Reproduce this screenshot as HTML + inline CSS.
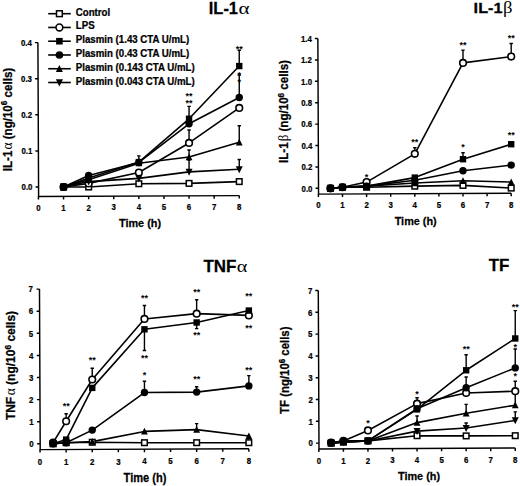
<!DOCTYPE html><html><head><meta charset="utf-8"><style>html,body{margin:0;padding:0;background:#fff;}svg{display:block}.t{font-family:"Liberation Sans",sans-serif;font-weight:bold;fill:#000;stroke:#000;stroke-width:0.25px}.s{stroke:none}.g{font-family:"Liberation Serif",serif;font-weight:normal;stroke:none}</style></head><body>
<svg width="520" height="486" viewBox="0 0 520 486"><rect width="520" height="486" fill="#fff"/>
<path d="M37.91 42.60 L38.60 196.50 L239.25 195.60" fill="none" stroke="#000" stroke-width="1.45" stroke-linejoin="miter"/>
<path d="M35.56 187.00 H38.56 M35.39 150.90 H38.39 M35.23 114.80 H38.23 M35.07 78.70 H38.07 M34.91 42.60 H37.91 M38.45 196.50 V199.50 M63.55 196.39 V199.39 M88.65 196.27 V199.27 M113.75 196.16 V199.16 M138.85 196.05 V199.05 M163.95 195.94 V198.94 M189.05 195.82 V198.82 M214.15 195.71 V198.71 M239.25 195.60 V198.60 " fill="none" stroke="#000" stroke-width="1.45"/>
<text transform="translate(32.46,190.20) scale(0.88,1.0)" text-anchor="end" class="t" font-size="8.9" >0.0</text>
<text transform="translate(32.29,154.10) scale(0.88,1.0)" text-anchor="end" class="t" font-size="8.9" >0.1</text>
<text transform="translate(32.13,118.00) scale(0.88,1.0)" text-anchor="end" class="t" font-size="8.9" >0.2</text>
<text transform="translate(31.97,81.90) scale(0.88,1.0)" text-anchor="end" class="t" font-size="8.9" >0.3</text>
<text transform="translate(31.81,45.80) scale(0.88,1.0)" text-anchor="end" class="t" font-size="8.9" >0.4</text>
<text transform="translate(38.45,210.80) scale(0.88,1.0)" text-anchor="middle" class="t" font-size="8.9" >0</text>
<text transform="translate(63.55,210.69) scale(0.88,1.0)" text-anchor="middle" class="t" font-size="8.9" >1</text>
<text transform="translate(88.65,210.57) scale(0.88,1.0)" text-anchor="middle" class="t" font-size="8.9" >2</text>
<text transform="translate(113.75,210.46) scale(0.88,1.0)" text-anchor="middle" class="t" font-size="8.9" >3</text>
<text transform="translate(138.85,210.35) scale(0.88,1.0)" text-anchor="middle" class="t" font-size="8.9" >4</text>
<text transform="translate(163.95,210.24) scale(0.88,1.0)" text-anchor="middle" class="t" font-size="8.9" >5</text>
<text transform="translate(189.05,210.12) scale(0.88,1.0)" text-anchor="middle" class="t" font-size="8.9" >6</text>
<text transform="translate(214.15,210.01) scale(0.88,1.0)" text-anchor="middle" class="t" font-size="8.9" >7</text>
<text transform="translate(239.25,209.90) scale(0.88,1.0)" text-anchor="middle" class="t" font-size="8.9" >8</text>
<path d="M138.85 162.09 V155.90 M137.15 155.90 H140.55" stroke="#000" stroke-width="1.4" fill="none"/>
<path d="M189.05 118.77 V106.40 M187.35 106.40 H190.75" stroke="#000" stroke-width="1.4" fill="none"/>
<path d="M239.25 66.06 V50.30 M237.55 50.30 H240.95" stroke="#000" stroke-width="1.4" fill="none"/>
<path d="M189.05 142.96 V130.00 M187.35 130.00 H190.75" stroke="#000" stroke-width="1.4" fill="none"/>
<path d="M239.25 97.47 V75.00 M237.55 75.00 H240.95" stroke="#000" stroke-width="1.4" fill="none"/>
<path d="M189.05 157.04 V150.00 M187.35 150.00 H190.75" stroke="#000" stroke-width="1.4" fill="none"/>
<path d="M239.25 142.24 V125.70 M237.55 125.70 H240.95" stroke="#000" stroke-width="1.4" fill="none"/>
<path d="M239.25 169.31 V159.50 M237.55 159.50 H240.95" stroke="#000" stroke-width="1.4" fill="none"/>
<path d="M189.05 171.84 V160.00 M187.35 160.00 H190.75" stroke="#000" stroke-width="1.4" fill="none"/>
<polyline points="63.55,187.00 88.65,187.00 138.85,183.75 189.05,183.39 239.25,181.59" fill="none" stroke="#000" stroke-width="1.6" stroke-linejoin="round"/>
<polyline points="63.55,187.00 88.65,181.59 138.85,178.34 189.05,171.84 239.25,169.31" fill="none" stroke="#000" stroke-width="1.6" stroke-linejoin="round"/>
<polyline points="63.55,187.00 88.65,179.78 138.85,163.17 189.05,157.04 239.25,142.24" fill="none" stroke="#000" stroke-width="1.6" stroke-linejoin="round"/>
<polyline points="63.55,187.00 88.65,183.39 138.85,172.56 189.05,142.96 239.25,107.94" fill="none" stroke="#000" stroke-width="1.6" stroke-linejoin="round"/>
<polyline points="63.55,187.00 88.65,175.45 138.85,162.45 189.05,123.83 239.25,97.47" fill="none" stroke="#000" stroke-width="1.6" stroke-linejoin="round"/>
<polyline points="63.55,187.00 88.65,177.97 138.85,162.09 189.05,118.77 239.25,66.06" fill="none" stroke="#000" stroke-width="1.6" stroke-linejoin="round"/>
<rect x="60.75" y="184.20" width="5.60" height="5.60" fill="#fff" stroke="#000" stroke-width="1.5"/>
<rect x="85.85" y="184.20" width="5.60" height="5.60" fill="#fff" stroke="#000" stroke-width="1.5"/>
<rect x="136.05" y="180.95" width="5.60" height="5.60" fill="#fff" stroke="#000" stroke-width="1.5"/>
<rect x="186.25" y="180.59" width="5.60" height="5.60" fill="#fff" stroke="#000" stroke-width="1.5"/>
<rect x="236.45" y="178.78" width="5.60" height="5.60" fill="#fff" stroke="#000" stroke-width="1.5"/>
<circle cx="63.55" cy="187.00" r="3.30" fill="#fff" stroke="#000" stroke-width="1.6"/>
<circle cx="88.65" cy="183.39" r="3.30" fill="#fff" stroke="#000" stroke-width="1.6"/>
<circle cx="138.85" cy="172.56" r="3.30" fill="#fff" stroke="#000" stroke-width="1.6"/>
<circle cx="189.05" cy="142.96" r="3.30" fill="#fff" stroke="#000" stroke-width="1.6"/>
<circle cx="239.25" cy="107.94" r="3.30" fill="#fff" stroke="#000" stroke-width="1.6"/>
<path d="M63.55 190.90 L67.05 183.90 L60.05 183.90Z" fill="#000"/>
<path d="M88.65 185.49 L92.15 178.49 L85.15 178.49Z" fill="#000"/>
<path d="M138.85 182.24 L142.35 175.24 L135.35 175.24Z" fill="#000"/>
<path d="M189.05 175.74 L192.55 168.74 L185.55 168.74Z" fill="#000"/>
<path d="M239.25 173.21 L242.75 166.21 L235.75 166.21Z" fill="#000"/>
<path d="M63.55 183.40 L66.95 190.20 L60.15 190.20Z" fill="#000"/>
<path d="M88.65 176.18 L92.05 182.98 L85.25 182.98Z" fill="#000"/>
<path d="M138.85 159.57 L142.25 166.37 L135.45 166.37Z" fill="#000"/>
<path d="M189.05 153.44 L192.45 160.24 L185.65 160.24Z" fill="#000"/>
<path d="M239.25 138.64 L242.65 145.44 L235.85 145.44Z" fill="#000"/>
<circle cx="63.55" cy="187.00" r="3.70" fill="#000"/>
<circle cx="88.65" cy="175.45" r="3.70" fill="#000"/>
<circle cx="138.85" cy="162.45" r="3.70" fill="#000"/>
<circle cx="189.05" cy="123.83" r="3.70" fill="#000"/>
<circle cx="239.25" cy="97.47" r="3.70" fill="#000"/>
<rect x="60.35" y="183.80" width="6.40" height="6.40" fill="#000"/>
<rect x="85.45" y="174.78" width="6.40" height="6.40" fill="#000"/>
<rect x="135.65" y="158.89" width="6.40" height="6.40" fill="#000"/>
<rect x="185.85" y="115.57" width="6.40" height="6.40" fill="#000"/>
<rect x="236.05" y="62.86" width="6.40" height="6.40" fill="#000"/>
<text x="189.05" y="98.60" text-anchor="middle" class="t s" font-size="9">**</text>
<text x="189.05" y="106.20" text-anchor="middle" class="t s" font-size="9">**</text>
<text x="239.25" y="51.90" text-anchor="middle" class="t s" font-size="9">**</text>
<text x="239.25" y="77.60" text-anchor="middle" class="t s" font-size="9">*</text>
<text x="239.25" y="84.70" text-anchor="middle" class="t s" font-size="9">*</text>
<path d="M48.2 13.70 H70.8" stroke="#000" stroke-width="1.6"/>
<rect x="56.50" y="10.80" width="5.80" height="5.80" fill="#fff" stroke="#000" stroke-width="1.5"/>
<text transform="translate(75.8,15.70) scale(0.955,1)" class="t" font-size="10.15">Control</text>
<path d="M48.2 27.46 H70.8" stroke="#000" stroke-width="1.6"/>
<circle cx="59.40" cy="27.46" r="3.40" fill="#fff" stroke="#000" stroke-width="1.6"/>
<text transform="translate(75.8,29.46) scale(0.955,1)" class="t" font-size="10.15">LPS</text>
<path d="M48.2 41.22 H70.8" stroke="#000" stroke-width="1.6"/>
<rect x="56.10" y="37.92" width="6.60" height="6.60" fill="#000"/>
<text transform="translate(75.8,43.22) scale(0.955,1)" class="t" font-size="10.15">Plasmin (1.43 CTA U/mL)</text>
<path d="M48.2 54.98 H70.8" stroke="#000" stroke-width="1.6"/>
<circle cx="59.40" cy="54.98" r="3.80" fill="#000"/>
<text transform="translate(75.8,56.98) scale(0.955,1)" class="t" font-size="10.15">Plasmin (0.43 CTA U/mL)</text>
<path d="M48.2 68.74 H70.8" stroke="#000" stroke-width="1.6"/>
<path d="M59.40 65.04 L62.90 72.04 L55.90 72.04Z" fill="#000"/>
<text transform="translate(75.8,70.74) scale(0.955,1)" class="t" font-size="10.15">Plasmin (0.143 CTA U/mL)</text>
<path d="M48.2 82.50 H70.8" stroke="#000" stroke-width="1.6"/>
<path d="M59.40 86.50 L63.00 79.30 L55.80 79.30Z" fill="#000"/>
<text transform="translate(75.8,84.50) scale(0.955,1)" class="t" font-size="10.15">Plasmin (0.043 CTA U/mL)</text>
<text transform="translate(208.8,14.2) scale(1.04,1)" class="t" font-size="15.8">IL-1</text>
<text transform="translate(238.4,14.2) scale(1.2,1)" class="t g" font-size="17.5">α</text>
<text transform="translate(11.9,119.5) rotate(-90) scale(1,1.07)" text-anchor="middle" class="t" font-size="11.6">IL-1<tspan class="g" font-size="13.5" dx="1">α</tspan> (ng/10<tspan font-size="8.2" dy="-4.3">6</tspan><tspan dy="4.3"> cells)</tspan></text>
<text transform="translate(140,227.1) scale(0.92,1)" text-anchor="middle" class="t" font-size="11.82">Time (h)</text>
<path d="M317.85 38.50 L318.55 194.10 L511.20 193.23" fill="none" stroke="#000" stroke-width="1.45" stroke-linejoin="miter"/>
<path d="M315.52 188.30 H318.52 M315.43 166.90 H318.43 M315.33 145.50 H318.33 M315.23 124.10 H318.23 M315.14 102.70 H318.14 M315.04 81.30 H318.04 M314.95 59.90 H317.95 M314.85 38.50 H317.85 M318.40 194.10 V197.10 M342.50 193.99 V196.99 M366.60 193.88 V196.88 M390.70 193.78 V196.78 M414.80 193.67 V196.67 M438.90 193.56 V196.56 M463.00 193.45 V196.45 M487.10 193.34 V196.34 M511.20 193.23 V196.23 " fill="none" stroke="#000" stroke-width="1.45"/>
<text transform="translate(312.47,191.50) scale(0.88,1.0)" text-anchor="end" class="t" font-size="8.9" >0.0</text>
<text transform="translate(312.38,170.10) scale(0.88,1.0)" text-anchor="end" class="t" font-size="8.9" >0.2</text>
<text transform="translate(312.28,148.70) scale(0.88,1.0)" text-anchor="end" class="t" font-size="8.9" >0.4</text>
<text transform="translate(312.19,127.30) scale(0.88,1.0)" text-anchor="end" class="t" font-size="8.9" >0.6</text>
<text transform="translate(312.09,105.90) scale(0.88,1.0)" text-anchor="end" class="t" font-size="8.9" >0.8</text>
<text transform="translate(311.99,84.50) scale(0.88,1.0)" text-anchor="end" class="t" font-size="8.9" >1.0</text>
<text transform="translate(311.90,63.10) scale(0.88,1.0)" text-anchor="end" class="t" font-size="8.9" >1.2</text>
<text transform="translate(311.80,41.70) scale(0.88,1.0)" text-anchor="end" class="t" font-size="8.9" >1.4</text>
<text transform="translate(318.40,208.40) scale(0.88,1.0)" text-anchor="middle" class="t" font-size="8.9" >0</text>
<text transform="translate(342.50,208.29) scale(0.88,1.0)" text-anchor="middle" class="t" font-size="8.9" >1</text>
<text transform="translate(366.60,208.18) scale(0.88,1.0)" text-anchor="middle" class="t" font-size="8.9" >2</text>
<text transform="translate(390.70,208.08) scale(0.88,1.0)" text-anchor="middle" class="t" font-size="8.9" >3</text>
<text transform="translate(414.80,207.97) scale(0.88,1.0)" text-anchor="middle" class="t" font-size="8.9" >4</text>
<text transform="translate(438.90,207.86) scale(0.88,1.0)" text-anchor="middle" class="t" font-size="8.9" >5</text>
<text transform="translate(463.00,207.75) scale(0.88,1.0)" text-anchor="middle" class="t" font-size="8.9" >6</text>
<text transform="translate(487.10,207.64) scale(0.88,1.0)" text-anchor="middle" class="t" font-size="8.9" >7</text>
<text transform="translate(511.20,207.53) scale(0.88,1.0)" text-anchor="middle" class="t" font-size="8.9" >8</text>
<path d="M414.80 153.85 V147.70 M413.10 147.70 H416.50" stroke="#000" stroke-width="1.4" fill="none"/>
<path d="M463.00 62.90 V50.10 M461.30 50.10 H464.70" stroke="#000" stroke-width="1.4" fill="none"/>
<path d="M511.20 56.58 V43.50 M509.50 43.50 H512.90" stroke="#000" stroke-width="1.4" fill="none"/>
<path d="M463.00 159.20 V152.80 M461.30 152.80 H464.70" stroke="#000" stroke-width="1.4" fill="none"/>
<polyline points="330.45,188.30 342.50,187.23 366.60,187.23 414.80,186.16 463.00,185.41 511.20,188.09" fill="none" stroke="#000" stroke-width="1.6" stroke-linejoin="round"/>
<polyline points="330.45,188.30 342.50,187.23 366.60,186.16 414.80,182.95 463.00,180.81 511.20,182.09" fill="none" stroke="#000" stroke-width="1.6" stroke-linejoin="round"/>
<polyline points="330.45,188.30 342.50,187.23 366.60,182.09 414.80,153.85 463.00,62.90 511.20,56.58" fill="none" stroke="#000" stroke-width="1.6" stroke-linejoin="round"/>
<polyline points="330.45,188.30 342.50,187.23 366.60,186.16 414.80,180.28 463.00,170.75 511.20,165.08" fill="none" stroke="#000" stroke-width="1.6" stroke-linejoin="round"/>
<polyline points="330.45,188.30 342.50,187.23 366.60,186.16 414.80,177.60 463.00,159.20 511.20,144.22" fill="none" stroke="#000" stroke-width="1.6" stroke-linejoin="round"/>
<rect x="327.65" y="185.50" width="5.60" height="5.60" fill="#fff" stroke="#000" stroke-width="1.5"/>
<rect x="339.70" y="184.43" width="5.60" height="5.60" fill="#fff" stroke="#000" stroke-width="1.5"/>
<rect x="363.80" y="184.43" width="5.60" height="5.60" fill="#fff" stroke="#000" stroke-width="1.5"/>
<rect x="412.00" y="183.36" width="5.60" height="5.60" fill="#fff" stroke="#000" stroke-width="1.5"/>
<rect x="460.20" y="182.61" width="5.60" height="5.60" fill="#fff" stroke="#000" stroke-width="1.5"/>
<rect x="508.40" y="185.29" width="5.60" height="5.60" fill="#fff" stroke="#000" stroke-width="1.5"/>
<circle cx="330.45" cy="188.30" r="3.30" fill="#fff" stroke="#000" stroke-width="1.6"/>
<circle cx="342.50" cy="187.23" r="3.30" fill="#fff" stroke="#000" stroke-width="1.6"/>
<circle cx="366.60" cy="182.09" r="3.30" fill="#fff" stroke="#000" stroke-width="1.6"/>
<circle cx="414.80" cy="153.85" r="3.30" fill="#fff" stroke="#000" stroke-width="1.6"/>
<circle cx="463.00" cy="62.90" r="3.30" fill="#fff" stroke="#000" stroke-width="1.6"/>
<circle cx="511.20" cy="56.58" r="3.30" fill="#fff" stroke="#000" stroke-width="1.6"/>
<path d="M330.45 184.70 L333.85 191.50 L327.05 191.50Z" fill="#000"/>
<path d="M342.50 183.63 L345.90 190.43 L339.10 190.43Z" fill="#000"/>
<path d="M366.60 182.56 L370.00 189.36 L363.20 189.36Z" fill="#000"/>
<path d="M414.80 179.35 L418.20 186.15 L411.40 186.15Z" fill="#000"/>
<path d="M463.00 177.21 L466.40 184.01 L459.60 184.01Z" fill="#000"/>
<path d="M511.20 178.49 L514.60 185.29 L507.80 185.29Z" fill="#000"/>
<circle cx="330.45" cy="188.30" r="3.70" fill="#000"/>
<circle cx="342.50" cy="187.23" r="3.70" fill="#000"/>
<circle cx="366.60" cy="186.16" r="3.70" fill="#000"/>
<circle cx="414.80" cy="180.28" r="3.70" fill="#000"/>
<circle cx="463.00" cy="170.75" r="3.70" fill="#000"/>
<circle cx="511.20" cy="165.08" r="3.70" fill="#000"/>
<rect x="327.25" y="185.10" width="6.40" height="6.40" fill="#000"/>
<rect x="339.30" y="184.03" width="6.40" height="6.40" fill="#000"/>
<rect x="363.40" y="182.96" width="6.40" height="6.40" fill="#000"/>
<rect x="411.60" y="174.40" width="6.40" height="6.40" fill="#000"/>
<rect x="459.80" y="156.00" width="6.40" height="6.40" fill="#000"/>
<rect x="508.00" y="141.02" width="6.40" height="6.40" fill="#000"/>
<text x="366.60" y="179.50" text-anchor="middle" class="t s" font-size="9">*</text>
<text x="414.80" y="145.30" text-anchor="middle" class="t s" font-size="9">**</text>
<text x="463.00" y="47.50" text-anchor="middle" class="t s" font-size="9">**</text>
<text x="511.20" y="40.50" text-anchor="middle" class="t s" font-size="9">**</text>
<text x="463.00" y="150.10" text-anchor="middle" class="t s" font-size="9">*</text>
<text x="511.20" y="138.10" text-anchor="middle" class="t s" font-size="9">**</text>
<text transform="translate(473.6,13.2) scale(1.06,1)" class="t" font-size="15.4">IL-1</text>
<text transform="translate(502.9,13.2) scale(1.1,1)" class="t g" font-size="17">β</text>
<text transform="translate(288.4,111.5) rotate(-90) scale(1,1.06)" text-anchor="middle" class="t" font-size="11.6">IL-1<tspan class="g" font-size="13" dx="1">β</tspan> (ng/10<tspan font-size="8.2" dy="-4.3">6</tspan><tspan dy="4.3"> cells)</tspan></text>
<text transform="translate(415.7,224.8) scale(0.92,1)" text-anchor="middle" class="t" font-size="11.82">Time (h)</text>
<path d="M39.48 289.10 L40.20 449.60 L248.85 448.66" fill="none" stroke="#000" stroke-width="1.45" stroke-linejoin="miter"/>
<path d="M37.17 443.80 H40.17 M37.07 421.70 H40.07 M36.97 399.60 H39.97 M36.88 377.50 H39.88 M36.78 355.40 H39.78 M36.68 333.30 H39.68 M36.58 311.20 H39.58 M36.48 289.10 H39.48 M40.05 449.60 V452.60 M66.15 449.48 V452.48 M92.25 449.37 V452.37 M118.35 449.25 V452.25 M144.45 449.13 V452.13 M170.55 449.01 V452.01 M196.65 448.90 V451.90 M222.75 448.78 V451.78 M248.85 448.66 V451.66 " fill="none" stroke="#000" stroke-width="1.45"/>
<text transform="translate(33.67,447.00) scale(0.88,1.0)" text-anchor="end" class="t" font-size="8.9" >0</text>
<text transform="translate(33.57,424.90) scale(0.88,1.0)" text-anchor="end" class="t" font-size="8.9" >1</text>
<text transform="translate(33.48,402.80) scale(0.88,1.0)" text-anchor="end" class="t" font-size="8.9" >2</text>
<text transform="translate(33.38,380.70) scale(0.88,1.0)" text-anchor="end" class="t" font-size="8.9" >3</text>
<text transform="translate(33.28,358.60) scale(0.88,1.0)" text-anchor="end" class="t" font-size="8.9" >4</text>
<text transform="translate(33.18,336.50) scale(0.88,1.0)" text-anchor="end" class="t" font-size="8.9" >5</text>
<text transform="translate(33.08,314.40) scale(0.88,1.0)" text-anchor="end" class="t" font-size="8.9" >6</text>
<text transform="translate(32.98,292.30) scale(0.88,1.0)" text-anchor="end" class="t" font-size="8.9" >7</text>
<text transform="translate(40.05,464.90) scale(0.88,1.0)" text-anchor="middle" class="t" font-size="8.9" >0</text>
<text transform="translate(66.15,464.78) scale(0.88,1.0)" text-anchor="middle" class="t" font-size="8.9" >1</text>
<text transform="translate(92.25,464.67) scale(0.88,1.0)" text-anchor="middle" class="t" font-size="8.9" >2</text>
<text transform="translate(118.35,464.55) scale(0.88,1.0)" text-anchor="middle" class="t" font-size="8.9" >3</text>
<text transform="translate(144.45,464.43) scale(0.88,1.0)" text-anchor="middle" class="t" font-size="8.9" >4</text>
<text transform="translate(170.55,464.31) scale(0.88,1.0)" text-anchor="middle" class="t" font-size="8.9" >5</text>
<text transform="translate(196.65,464.20) scale(0.88,1.0)" text-anchor="middle" class="t" font-size="8.9" >6</text>
<text transform="translate(222.75,464.08) scale(0.88,1.0)" text-anchor="middle" class="t" font-size="8.9" >7</text>
<text transform="translate(248.85,463.96) scale(0.88,1.0)" text-anchor="middle" class="t" font-size="8.9" >8</text>
<path d="M66.15 421.26 V413.70 M64.45 413.70 H67.85" stroke="#000" stroke-width="1.4" fill="none"/>
<path d="M92.25 379.49 V368.30 M90.55 368.30 H93.95" stroke="#000" stroke-width="1.4" fill="none"/>
<path d="M144.45 318.94 V305.50 M142.75 305.50 H146.15" stroke="#000" stroke-width="1.4" fill="none"/>
<path d="M196.65 313.63 V299.80 M194.95 299.80 H198.35" stroke="#000" stroke-width="1.4" fill="none"/>
<path d="M144.45 329.32 V350.50 M142.75 350.50 H146.15" stroke="#000" stroke-width="1.4" fill="none"/>
<path d="M196.65 322.47 V328.60 M194.95 328.60 H198.35" stroke="#000" stroke-width="1.4" fill="none"/>
<path d="M144.45 392.53 V381.30 M142.75 381.30 H146.15" stroke="#000" stroke-width="1.4" fill="none"/>
<path d="M196.65 392.09 V386.80 M194.95 386.80 H198.35" stroke="#000" stroke-width="1.4" fill="none"/>
<path d="M248.85 385.90 V375.60 M247.15 375.60 H250.55" stroke="#000" stroke-width="1.4" fill="none"/>
<path d="M196.65 429.66 V423.60 M194.95 423.60 H198.35" stroke="#000" stroke-width="1.4" fill="none"/>
<polyline points="53.10,443.80 66.15,442.69 92.25,442.25 144.45,442.69 196.65,442.69 248.85,442.69" fill="none" stroke="#000" stroke-width="1.6" stroke-linejoin="round"/>
<polyline points="53.10,443.80 66.15,442.69 92.25,441.59 144.45,431.42 196.65,429.66 248.85,436.06" fill="none" stroke="#000" stroke-width="1.6" stroke-linejoin="round"/>
<polyline points="53.10,443.80 66.15,442.69 92.25,430.10 144.45,392.53 196.65,392.09 248.85,385.90" fill="none" stroke="#000" stroke-width="1.6" stroke-linejoin="round"/>
<polyline points="53.10,443.80 66.15,439.60 92.25,387.89 144.45,329.32 196.65,322.47 248.85,310.54" fill="none" stroke="#000" stroke-width="1.6" stroke-linejoin="round"/>
<polyline points="53.10,442.69 66.15,421.26 92.25,379.49 144.45,318.94 196.65,313.63 248.85,315.40" fill="none" stroke="#000" stroke-width="1.6" stroke-linejoin="round"/>
<rect x="50.30" y="441.00" width="5.60" height="5.60" fill="#fff" stroke="#000" stroke-width="1.5"/>
<rect x="63.35" y="439.89" width="5.60" height="5.60" fill="#fff" stroke="#000" stroke-width="1.5"/>
<rect x="89.45" y="439.45" width="5.60" height="5.60" fill="#fff" stroke="#000" stroke-width="1.5"/>
<rect x="141.65" y="439.89" width="5.60" height="5.60" fill="#fff" stroke="#000" stroke-width="1.5"/>
<rect x="193.85" y="439.89" width="5.60" height="5.60" fill="#fff" stroke="#000" stroke-width="1.5"/>
<rect x="246.05" y="439.89" width="5.60" height="5.60" fill="#fff" stroke="#000" stroke-width="1.5"/>
<circle cx="53.10" cy="442.69" r="3.30" fill="#fff" stroke="#000" stroke-width="1.6"/>
<circle cx="66.15" cy="421.26" r="3.30" fill="#fff" stroke="#000" stroke-width="1.6"/>
<circle cx="92.25" cy="379.49" r="3.30" fill="#fff" stroke="#000" stroke-width="1.6"/>
<circle cx="144.45" cy="318.94" r="3.30" fill="#fff" stroke="#000" stroke-width="1.6"/>
<circle cx="196.65" cy="313.63" r="3.30" fill="#fff" stroke="#000" stroke-width="1.6"/>
<circle cx="248.85" cy="315.40" r="3.30" fill="#fff" stroke="#000" stroke-width="1.6"/>
<path d="M53.10 440.20 L56.50 447.00 L49.70 447.00Z" fill="#000"/>
<path d="M66.15 439.10 L69.55 445.89 L62.75 445.89Z" fill="#000"/>
<path d="M92.25 437.99 L95.65 444.79 L88.85 444.79Z" fill="#000"/>
<path d="M144.45 427.82 L147.85 434.62 L141.05 434.62Z" fill="#000"/>
<path d="M196.65 426.06 L200.05 432.86 L193.25 432.86Z" fill="#000"/>
<path d="M248.85 432.47 L252.25 439.26 L245.45 439.26Z" fill="#000"/>
<circle cx="53.10" cy="443.80" r="3.70" fill="#000"/>
<circle cx="66.15" cy="442.69" r="3.70" fill="#000"/>
<circle cx="92.25" cy="430.10" r="3.70" fill="#000"/>
<circle cx="144.45" cy="392.53" r="3.70" fill="#000"/>
<circle cx="196.65" cy="392.09" r="3.70" fill="#000"/>
<circle cx="248.85" cy="385.90" r="3.70" fill="#000"/>
<rect x="49.90" y="440.60" width="6.40" height="6.40" fill="#000"/>
<rect x="62.95" y="436.40" width="6.40" height="6.40" fill="#000"/>
<rect x="89.05" y="384.69" width="6.40" height="6.40" fill="#000"/>
<rect x="141.25" y="326.12" width="6.40" height="6.40" fill="#000"/>
<rect x="193.45" y="319.27" width="6.40" height="6.40" fill="#000"/>
<rect x="245.65" y="307.34" width="6.40" height="6.40" fill="#000"/>
<text x="66.15" y="409.10" text-anchor="middle" class="t s" font-size="9">**</text>
<text x="92.25" y="363.20" text-anchor="middle" class="t s" font-size="9">**</text>
<text x="144.45" y="300.70" text-anchor="middle" class="t s" font-size="9">**</text>
<text x="196.65" y="295.40" text-anchor="middle" class="t s" font-size="9">**</text>
<text x="248.85" y="298.70" text-anchor="middle" class="t s" font-size="9">**</text>
<text x="144.45" y="361.20" text-anchor="middle" class="t s" font-size="9">**</text>
<text x="196.65" y="338.20" text-anchor="middle" class="t s" font-size="9">**</text>
<text x="248.85" y="331.30" text-anchor="middle" class="t s" font-size="9">**</text>
<text x="144.45" y="378.20" text-anchor="middle" class="t s" font-size="9">*</text>
<text x="196.65" y="382.40" text-anchor="middle" class="t s" font-size="9">**</text>
<text x="248.85" y="372.50" text-anchor="middle" class="t s" font-size="9">**</text>
<text transform="translate(203.5,272.3) scale(1.08,1)" class="t" font-size="15.7">TNF</text>
<text transform="translate(236.8,272.3) scale(1.15,1)" class="t g" font-size="17.5">α</text>
<text transform="translate(15.3,365.5) rotate(-90) scale(1,1.05)" text-anchor="middle" class="t" font-size="12">TNF<tspan class="g" font-size="13.5" dx="1.5">α</tspan> (ng/10<tspan font-size="8.4" dy="-4.4">6</tspan><tspan dy="4.4"> cells)</tspan></text>
<text transform="translate(145,481.6) scale(0.92,1)" text-anchor="middle" class="t" font-size="12.04">Time (h)</text>
<path d="M318.29 290.50 L319.00 448.90 L515.25 448.02" fill="none" stroke="#000" stroke-width="1.45" stroke-linejoin="miter"/>
<path d="M315.97 443.10 H318.97 M315.88 421.30 H318.88 M315.78 399.50 H318.78 M315.68 377.70 H318.68 M315.58 355.90 H318.58 M315.48 334.10 H318.48 M315.39 312.30 H318.39 M315.29 290.50 H318.29 M318.85 448.90 V451.90 M343.40 448.79 V451.79 M367.95 448.68 V451.68 M392.50 448.57 V451.57 M417.05 448.46 V451.46 M441.60 448.35 V451.35 M466.15 448.24 V451.24 M490.70 448.13 V451.13 M515.25 448.02 V451.02 " fill="none" stroke="#000" stroke-width="1.45"/>
<text transform="translate(312.97,446.30) scale(0.88,1.0)" text-anchor="end" class="t" font-size="8.9" >0</text>
<text transform="translate(312.88,424.50) scale(0.88,1.0)" text-anchor="end" class="t" font-size="8.9" >1</text>
<text transform="translate(312.78,402.70) scale(0.88,1.0)" text-anchor="end" class="t" font-size="8.9" >2</text>
<text transform="translate(312.68,380.90) scale(0.88,1.0)" text-anchor="end" class="t" font-size="8.9" >3</text>
<text transform="translate(312.58,359.10) scale(0.88,1.0)" text-anchor="end" class="t" font-size="8.9" >4</text>
<text transform="translate(312.48,337.30) scale(0.88,1.0)" text-anchor="end" class="t" font-size="8.9" >5</text>
<text transform="translate(312.39,315.50) scale(0.88,1.0)" text-anchor="end" class="t" font-size="8.9" >6</text>
<text transform="translate(312.29,293.70) scale(0.88,1.0)" text-anchor="end" class="t" font-size="8.9" >7</text>
<text transform="translate(318.85,463.80) scale(0.88,1.0)" text-anchor="middle" class="t" font-size="8.9" >0</text>
<text transform="translate(343.40,463.69) scale(0.88,1.0)" text-anchor="middle" class="t" font-size="8.9" >1</text>
<text transform="translate(367.95,463.58) scale(0.88,1.0)" text-anchor="middle" class="t" font-size="8.9" >2</text>
<text transform="translate(392.50,463.47) scale(0.88,1.0)" text-anchor="middle" class="t" font-size="8.9" >3</text>
<text transform="translate(417.05,463.36) scale(0.88,1.0)" text-anchor="middle" class="t" font-size="8.9" >4</text>
<text transform="translate(441.60,463.25) scale(0.88,1.0)" text-anchor="middle" class="t" font-size="8.9" >5</text>
<text transform="translate(466.15,463.14) scale(0.88,1.0)" text-anchor="middle" class="t" font-size="8.9" >6</text>
<text transform="translate(490.70,463.03) scale(0.88,1.0)" text-anchor="middle" class="t" font-size="8.9" >7</text>
<text transform="translate(515.25,462.92) scale(0.88,1.0)" text-anchor="middle" class="t" font-size="8.9" >8</text>
<path d="M417.05 403.64 V397.80 M415.35 397.80 H418.75" stroke="#000" stroke-width="1.4" fill="none"/>
<path d="M466.15 370.29 V354.80 M464.45 354.80 H467.85" stroke="#000" stroke-width="1.4" fill="none"/>
<path d="M515.25 338.46 V310.60 M513.55 310.60 H516.95" stroke="#000" stroke-width="1.4" fill="none"/>
<path d="M466.15 413.23 V404.40 M464.45 404.40 H467.85" stroke="#000" stroke-width="1.4" fill="none"/>
<path d="M466.15 427.62 V423.00 M464.45 423.00 H467.85" stroke="#000" stroke-width="1.4" fill="none"/>
<path d="M515.25 419.56 V411.90 M513.55 411.90 H516.95" stroke="#000" stroke-width="1.4" fill="none"/>
<path d="M515.25 391.22 V381.30 M513.55 381.30 H516.95" stroke="#000" stroke-width="1.4" fill="none"/>
<path d="M417.05 422.61 V416.00 M415.35 416.00 H418.75" stroke="#000" stroke-width="1.4" fill="none"/>
<path d="M515.25 405.17 V394.00 M513.55 394.00 H516.95" stroke="#000" stroke-width="1.4" fill="none"/>
<path d="M515.25 367.89 V349.00 M513.55 349.00 H516.95" stroke="#000" stroke-width="1.4" fill="none"/>
<path d="M466.15 387.73 V377.00 M464.45 377.00 H467.85" stroke="#000" stroke-width="1.4" fill="none"/>
<polyline points="331.12,443.10 343.40,442.01 367.95,440.92 417.05,435.69 466.15,435.91 515.25,435.69" fill="none" stroke="#000" stroke-width="1.6" stroke-linejoin="round"/>
<polyline points="331.12,443.10 343.40,442.01 367.95,440.92 417.05,431.11 466.15,428.06 515.25,420.43" fill="none" stroke="#000" stroke-width="1.6" stroke-linejoin="round"/>
<polyline points="331.12,443.10 343.40,442.01 367.95,440.92 417.05,422.61 466.15,413.23 515.25,405.17" fill="none" stroke="#000" stroke-width="1.6" stroke-linejoin="round"/>
<polyline points="331.12,442.66 343.40,440.92 367.95,430.46 417.05,403.64 466.15,392.96 515.25,391.22" fill="none" stroke="#000" stroke-width="1.6" stroke-linejoin="round"/>
<polyline points="331.12,442.66 343.40,440.92 367.95,440.92 417.05,408.66 466.15,387.73 515.25,367.89" fill="none" stroke="#000" stroke-width="1.6" stroke-linejoin="round"/>
<polyline points="331.12,443.10 343.40,442.01 367.95,440.92 417.05,409.31 466.15,370.29 515.25,338.46" fill="none" stroke="#000" stroke-width="1.6" stroke-linejoin="round"/>
<rect x="328.32" y="440.30" width="5.60" height="5.60" fill="#fff" stroke="#000" stroke-width="1.5"/>
<rect x="340.60" y="439.21" width="5.60" height="5.60" fill="#fff" stroke="#000" stroke-width="1.5"/>
<rect x="365.15" y="438.12" width="5.60" height="5.60" fill="#fff" stroke="#000" stroke-width="1.5"/>
<rect x="414.25" y="432.89" width="5.60" height="5.60" fill="#fff" stroke="#000" stroke-width="1.5"/>
<rect x="463.35" y="433.11" width="5.60" height="5.60" fill="#fff" stroke="#000" stroke-width="1.5"/>
<rect x="512.45" y="432.89" width="5.60" height="5.60" fill="#fff" stroke="#000" stroke-width="1.5"/>
<circle cx="331.12" cy="442.66" r="3.30" fill="#fff" stroke="#000" stroke-width="1.6"/>
<circle cx="343.40" cy="440.92" r="3.30" fill="#fff" stroke="#000" stroke-width="1.6"/>
<circle cx="367.95" cy="430.46" r="3.30" fill="#fff" stroke="#000" stroke-width="1.6"/>
<circle cx="417.05" cy="403.64" r="3.30" fill="#fff" stroke="#000" stroke-width="1.6"/>
<circle cx="466.15" cy="392.96" r="3.30" fill="#fff" stroke="#000" stroke-width="1.6"/>
<circle cx="515.25" cy="391.22" r="3.30" fill="#fff" stroke="#000" stroke-width="1.6"/>
<path d="M331.12 447.00 L334.62 440.00 L327.62 440.00Z" fill="#000"/>
<path d="M343.40 445.91 L346.90 438.91 L339.90 438.91Z" fill="#000"/>
<path d="M367.95 444.82 L371.45 437.82 L364.45 437.82Z" fill="#000"/>
<path d="M417.05 435.01 L420.55 428.01 L413.55 428.01Z" fill="#000"/>
<path d="M466.15 431.96 L469.65 424.96 L462.65 424.96Z" fill="#000"/>
<path d="M515.25 424.33 L518.75 417.33 L511.75 417.33Z" fill="#000"/>
<path d="M331.12 439.50 L334.52 446.30 L327.73 446.30Z" fill="#000"/>
<path d="M343.40 438.41 L346.80 445.21 L340.00 445.21Z" fill="#000"/>
<path d="M367.95 437.32 L371.35 444.12 L364.55 444.12Z" fill="#000"/>
<path d="M417.05 419.01 L420.45 425.81 L413.65 425.81Z" fill="#000"/>
<path d="M466.15 409.63 L469.55 416.43 L462.75 416.43Z" fill="#000"/>
<path d="M515.25 401.57 L518.65 408.37 L511.85 408.37Z" fill="#000"/>
<circle cx="331.12" cy="442.66" r="3.70" fill="#000"/>
<circle cx="343.40" cy="440.92" r="3.70" fill="#000"/>
<circle cx="367.95" cy="440.92" r="3.70" fill="#000"/>
<circle cx="417.05" cy="408.66" r="3.70" fill="#000"/>
<circle cx="466.15" cy="387.73" r="3.70" fill="#000"/>
<circle cx="515.25" cy="367.89" r="3.70" fill="#000"/>
<rect x="327.93" y="439.90" width="6.40" height="6.40" fill="#000"/>
<rect x="340.20" y="438.81" width="6.40" height="6.40" fill="#000"/>
<rect x="364.75" y="437.72" width="6.40" height="6.40" fill="#000"/>
<rect x="413.85" y="406.11" width="6.40" height="6.40" fill="#000"/>
<rect x="462.95" y="367.09" width="6.40" height="6.40" fill="#000"/>
<rect x="512.05" y="335.26" width="6.40" height="6.40" fill="#000"/>
<text x="367.95" y="426.40" text-anchor="middle" class="t s" font-size="9">*</text>
<text x="417.05" y="397.10" text-anchor="middle" class="t s" font-size="9">*</text>
<text x="466.15" y="352.30" text-anchor="middle" class="t s" font-size="9">**</text>
<text x="515.25" y="309.50" text-anchor="middle" class="t s" font-size="9">**</text>
<text x="515.25" y="350.30" text-anchor="middle" class="t s" font-size="9">*</text>
<text x="515.25" y="379.10" text-anchor="middle" class="t s" font-size="9">*</text>
<text transform="translate(488.7,271.4) scale(1.02,1)" class="t" font-size="16.6">TF</text>
<text transform="translate(289.4,370.2) rotate(-90) scale(1,1.07)" text-anchor="middle" class="t" font-size="11.4">TF (ng/10<tspan font-size="8.0" dy="-4.2">6</tspan><tspan dy="4.2"> cells)</tspan></text>
<text transform="translate(419,480.2) scale(0.92,1)" text-anchor="middle" class="t" font-size="11.82">Time (h)</text>
</svg></body></html>
